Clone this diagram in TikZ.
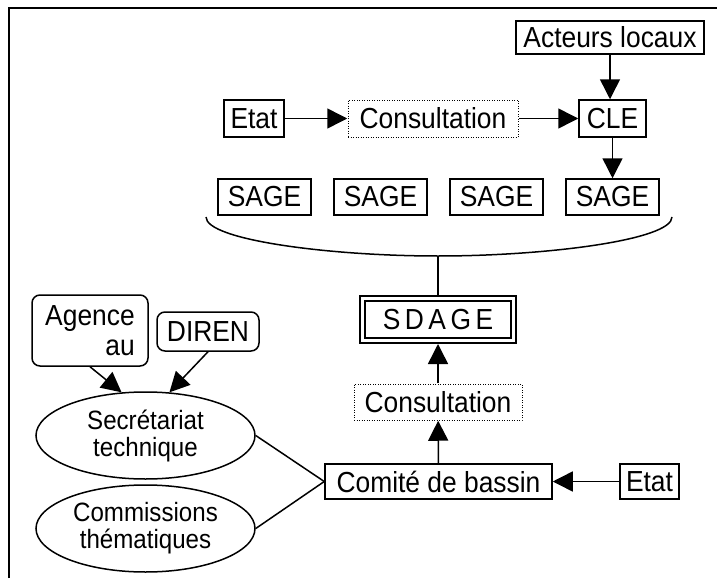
\documentclass[tikz,border=0pt]{standalone}
\usepackage{fontspec}
\setmainfont{Liberation Sans}[FakeStretch=0.91]
\usetikzlibrary{arrows.meta,shapes.geometric}
\begin{document}
\begin{tikzpicture}[x=1pt,y=-1pt,
  box/.style={draw, line width=1.5pt, inner sep=0pt, outer sep=0.75pt, minimum height=37pt,
              font=\fontsize{29}{30}\selectfont},
  dbox/.style={box, line width=1pt, dash pattern=on 1pt off 1.5pt},
  rbox/.style={box, rounded corners=8pt},
  ell/.style={ellipse, draw, line width=1.5pt, minimum width=219pt, minimum height=87pt,
              inner sep=0pt, outer sep=0.75pt, align=center, font=\fontsize{26.5}{27}\selectfont},
  arr/.style={line width=1.5pt, -{Triangle[length=20pt,width=20pt]}},
  con/.style={line width=1.5pt}]
\useasboundingbox (0,0) rectangle (717,578);
% frame
\draw[line width=2pt] (9,578) -- (9,8) -- (717,8);
% top part
\node[box, minimum width=188pt, minimum height=33pt] (acteurs) at (610,37.5) {Acteurs locaux};
\node[box, minimum width=60pt] (etat1) at (254,118.5) {Etat};
\node[dbox, minimum width=170pt] (consult1) at (433,118.5) {Consultation};
\node[box, minimum width=67pt] (cle) at (612.5,118.5) {CLE};
\node[box, minimum width=93pt, minimum height=36pt] (sage1) at (264.5,197) {SAGE};
\node[box, minimum width=93pt, minimum height=36pt] (sage2) at (380.5,197) {SAGE};
\node[box, minimum width=93pt, minimum height=36pt] (sage3) at (496.5,197) {SAGE};
\node[box, minimum width=93pt, minimum height=36pt] (sage4) at (612.5,197) {SAGE};
\draw[arr] (acteurs.south) -- (acteurs.south |- cle.north);
\draw[arr] (etat1) -- (consult1);
\draw[arr] (consult1) -- (cle);
\draw[arr] (cle.south) -- (cle.south |- sage4.north);
% brace curve
\coordinate (cl) at (206,217);
\coordinate (cr) at (672,217);
\coordinate (cb) at (438,256);
\draw[con] (cl) .. controls (206,240) and (330,256) .. (cb) .. controls (546,256) and (672,240) .. (cr);
% SDAGE
\node[box, double, line width=2pt, double distance=3pt, outer sep=3.5pt,
      minimum width=150.5pt, minimum height=42pt] (sdage) at (438,319.5) {{\spaceskip=4.5pt S D A G E}};
\draw[con] (cb) -- (sdage.north);
\node[dbox, minimum width=168pt, minimum height=36pt] (consult2) at (438,402) {Consultation};
\node[box, minimum width=227pt, minimum height=35pt] (comite) at (438.5,481.5) {Comité de bassin};
\node[box, minimum width=59pt, minimum height=35pt] (etat2) at (649.5,481.5) {Etat};
\draw[arr] (consult2) -- (sdage);
\draw[arr] (comite) -- (consult2);
\draw[arr] (etat2) -- (comite);
% left part
\node[rbox, minimum width=116pt, minimum height=71pt, align=right] (agence) at (90,330.5) {Agence\\au};
\node[rbox, minimum width=102pt, minimum height=39pt] (diren) at (208,331.5) {DIREN};
\node[ell] (secr) at (145.5,435.5) {Secrétariat\\technique};
\node[ell] (comm) at (145.5,528.5) {Commissions\\thématiques};
\draw[arr] (agence.south) -- (secr.119);
\draw[arr] (diren.south) -- (secr.61);
\draw[con] (secr.east) -- (comite.west);
\draw[con] (comm.east) -- (comite.west);
\end{tikzpicture}
\end{document}
